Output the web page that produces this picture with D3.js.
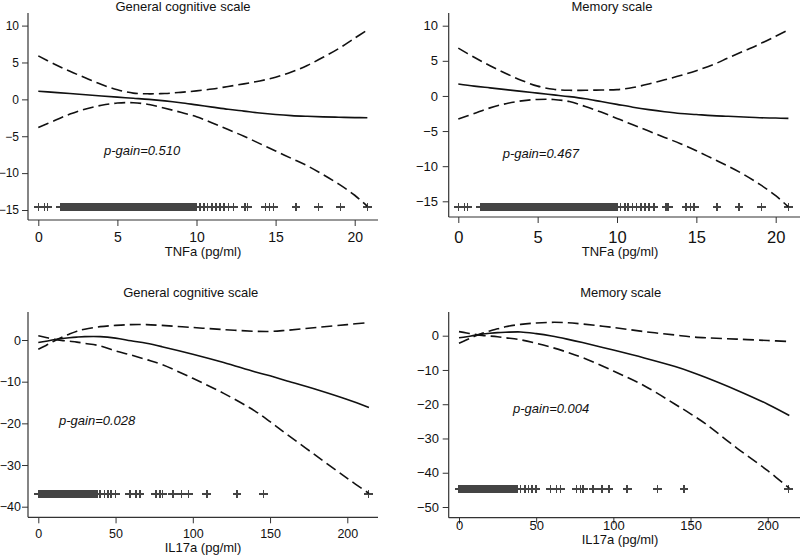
<!DOCTYPE html>
<html>
<head>
<meta charset="utf-8">
<script src="https://cdn.jsdelivr.net/npm/d3@7/dist/d3.min.js"></script>
<style>
  html, body { margin: 0; padding: 0; background: #fff; }
  svg { display: block; font-family: "Liberation Sans", Arial, sans-serif; }
</style>
</head>
<body>
<svg id="chart" width="800" height="555"></svg>
<script>
// ---------------- DATA ----------------
const panelTitles = ["General cognitive scale", "Memory scale", "General cognitive scale", "Memory scale"];
const xTitles = ["TNFa (pg/ml)", "TNFa (pg/ml)", "IL17a (pg/ml)", "IL17a (pg/ml)"];
const pGainLabels = ["p-gain=0.510", "p-gain=0.467", "p-gain=0.028", "p-gain=0.004"];

const tnfaTicksX = [0, 5, 10, 15, 20];
const tnfaTicksY = [-15, -10, -5, 0, 5, 10];
const il17TicksX = [0, 50, 100, 150, 200];
const il17GenTicksY = [-40, -30, -20, -10, 0];
const il17MemTicksY = [-50, -40, -30, -20, -10, 0];

// TNFa grid (pg/ml)
const tnfaGrid = [0, 1, 2, 3, 4, 5, 6, 7, 8, 9, 10, 11, 12, 13, 14, 15, 16, 17, 18, 19, 20, 20.8];
// General cognitive scale vs TNFa
const genTnfaFit   = [1.1, 0.95, 0.8, 0.62, 0.45, 0.3, 0.15, 0.0, -0.2, -0.45, -0.75, -1.05, -1.35, -1.6, -1.85, -2.05, -2.2, -2.3, -2.38, -2.42, -2.47, -2.5];
const genTnfaUpper = [5.9, 4.8, 3.8, 2.9, 2.0, 1.3, 0.85, 0.75, 0.8, 0.95, 1.15, 1.4, 1.75, 2.1, 2.5, 3.0, 3.7, 4.6, 5.7, 6.9, 8.3, 9.4];
const genTnfaLower = [-3.8, -2.9, -2.0, -1.3, -0.8, -0.5, -0.45, -0.7, -1.2, -1.75, -2.35, -3.2, -4.1, -5.0, -6.0, -7.0, -8.0, -9.0, -10.2, -11.5, -13.0, -14.5];
// Memory scale vs TNFa
const memTnfaFit   = [1.7, 1.4, 1.15, 0.9, 0.65, 0.4, 0.15, -0.1, -0.4, -0.8, -1.2, -1.6, -1.95, -2.25, -2.5, -2.65, -2.8, -2.9, -3.0, -3.1, -3.15, -3.2];
const memTnfaUpper = [6.8, 5.5, 4.3, 3.2, 2.2, 1.4, 0.95, 0.8, 0.8, 0.85, 0.9, 1.2, 1.7, 2.3, 2.9, 3.6, 4.4, 5.4, 6.4, 7.4, 8.5, 9.4];
const memTnfaLower = [-3.3, -2.5, -1.7, -1.1, -0.7, -0.5, -0.5, -0.8, -1.5, -2.3, -3.2, -4.1, -5.0, -5.9, -6.8, -7.8, -8.9, -10.0, -11.2, -12.6, -14.2, -15.8];

// IL17a grid (pg/ml)
const il17Grid = [0, 5, 10, 15, 20, 25, 30, 40, 50, 60, 70, 80, 100, 120, 140, 150, 160, 180, 200, 214];
// General cognitive scale vs IL17a
const genIl17Fit   = [-0.6, -0.3, 0.05, 0.35, 0.55, 0.7, 0.8, 0.8, 0.45, -0.2, -0.8, -1.6, -3.4, -5.4, -7.6, -8.6, -9.7, -11.9, -14.3, -16.2];
const genIl17Upper = [-2.2, -1.3, -0.3, 0.6, 1.4, 2.1, 2.6, 3.2, 3.5, 3.7, 3.7, 3.5, 3.0, 2.5, 2.1, 2.05, 2.3, 3.0, 3.7, 4.2];
const genIl17Lower = [1.0, 0.6, 0.2, -0.1, -0.3, -0.5, -0.8, -1.4, -2.6, -3.6, -4.7, -5.9, -9.2, -12.8, -17.0, -19.6, -22.4, -27.8, -33.2, -36.8];
// Memory scale vs IL17a
const memIl17Fit   = [-0.6, -0.3, 0.1, 0.45, 0.7, 0.9, 1.0, 1.1, 0.6, -0.1, -1.0, -2.0, -4.2, -6.5, -9.0, -10.5, -12.2, -15.9, -20.0, -23.3];
const memIl17Upper = [-2.2, -1.2, -0.2, 0.7, 1.4, 2.0, 2.6, 3.3, 3.7, 3.9, 3.8, 3.4, 2.4, 1.2, 0.2, -0.3, -0.6, -1.0, -1.4, -1.7];
const memIl17Lower = [1.2, 0.8, 0.4, 0.05, -0.1, -0.3, -0.6, -1.2, -2.2, -3.4, -4.8, -6.4, -10.3, -14.6, -20.0, -22.8, -25.8, -32.8, -39.4, -44.5];

// Observed exposure values (rug of "+" markers)
const tnfaObs = [0, 0.38, 0.59,
  1.4, 1.5, 1.6, 1.7, 1.8, 1.9, 2.0, 2.1, 2.2, 2.3, 2.4, 2.5, 2.6, 2.7, 2.8, 2.9, 3.0, 3.1, 3.2, 3.3, 3.4, 3.5,
  3.6, 3.7, 3.8, 3.9, 4.0, 4.1, 4.2, 4.3, 4.4, 4.5, 4.6, 4.7, 4.8, 4.9, 5.0, 5.1, 5.2, 5.3, 5.4, 5.5,
  5.6, 5.7, 5.8, 5.9, 6.0, 6.1, 6.2, 6.3, 6.4, 6.5, 6.6, 6.7, 6.8, 6.9, 7.0, 7.1, 7.2, 7.3, 7.4, 7.5,
  7.6, 7.7, 7.8, 7.9, 8.0, 8.1, 8.2, 8.3, 8.4, 8.5, 8.6, 8.7, 8.8, 8.9, 9.0, 9.1, 9.2, 9.3, 9.4, 9.5,
  9.6, 9.7, 9.8, 9.9, 10.0,
  10.23, 10.49, 10.7, 10.97, 11.24, 11.5, 11.75, 12.03, 12.34, 13.08, 13.23, 14.35, 14.62, 14.87,
  16.3, 17.7, 19.1, 20.8];
const il17Obs = [0, 1, 2, 3, 4, 5, 6, 7, 8, 9, 10, 11, 12, 13, 14, 15, 16, 17, 18, 19, 20, 21, 22, 23,
  24, 25, 26, 27, 28, 29, 30, 31, 32, 33, 34, 35, 36, 37, 38,
  39.8, 42.8, 45.0, 47.2, 50.0, 59.2, 63.2, 65.8, 76.0, 78.6, 80.5, 87.0, 92.8, 97.2, 109.0, 128.6, 145.8, 213.6];

// -------------- LAYOUT --------------
const panels = [
  { grid: tnfaGrid, fit: genTnfaFit, up: genTnfaUpper, lo: genTnfaLower, obs: tnfaObs, rugY: -14.6,
    xDom: [0, 20], xRange: [38.3, 354.7], yDom: [-15, 10], yRange: [210, 25.6],
    xTicks: tnfaTicksX, yTicks: tnfaTicksY,
    axisLeft: 28, axisRight: 378, axisTop: 13, axisBottom: 220,
    yFont: 12, xFont: 14, xLabelY: 241.5, yLabelEnd: 19,
    titleX: 183, titleY: 10.5, xTitleX: 203, xTitleY: 255.5, pX: 104, pY: 155 },
  { grid: tnfaGrid, fit: memTnfaFit, up: memTnfaUpper, lo: memTnfaLower, obs: tnfaObs, rugY: -15.8,
    xDom: [0, 20], xRange: [458.3, 775.7], yDom: [-15, 10], yRange: [201.3, 25.7],
    xTicks: tnfaTicksX, yTicks: tnfaTicksY,
    axisLeft: 448.7, axisRight: 800, axisTop: 13, axisBottom: 217,
    yFont: 13, xFont: 16.5, xLabelY: 242.5, yLabelEnd: 438,
    titleX: 612, titleY: 10.5, xTitleX: 620, xTitleY: 256, pX: 502.7, pY: 157.5 },
  { grid: il17Grid, fit: genIl17Fit, up: genIl17Upper, lo: genIl17Lower, obs: il17Obs, rugY: -37,
    xDom: [0, 200], xRange: [38.3, 347.3], yDom: [-40, 0], yRange: [506.7, 340],
    xTicks: il17TicksX, yTicks: il17GenTicksY,
    axisLeft: 28, axisRight: 378, axisTop: 312, axisBottom: 517.3,
    yFont: 12.5, xFont: 12.5, xLabelY: 538.5, yLabelEnd: 21,
    titleX: 190.7, titleY: 297, xTitleX: 203, xTitleY: 552, pX: 59, pY: 424.5 },
  { grid: il17Grid, fit: memIl17Fit, up: memIl17Upper, lo: memIl17Lower, obs: il17Obs, rugY: -44.8,
    xDom: [0, 200], xRange: [459, 767.7], yDom: [-50, 0], yRange: [507, 335.7],
    xTicks: il17TicksX, yTicks: il17MemTicksY,
    axisLeft: 448.7, axisRight: 800, axisTop: 312, axisBottom: 517.7,
    yFont: 13, xFont: 13, xLabelY: 529.5, yLabelEnd: 439,
    titleX: 620.7, titleY: 297, xTitleX: 620, xTitleY: 544, pX: 513, pY: 412.5 }
];

const svg = d3.select("#chart");
const axisColor = "#333";

panels.forEach((p, i) => {
  const g = svg.append("g");
  const x = d3.scaleLinear().domain(p.xDom).range(p.xRange);
  const y = d3.scaleLinear().domain(p.yDom).range(p.yRange);

  // Title
  g.append("text").attr("x", p.titleX).attr("y", p.titleY)
    .attr("text-anchor", "middle").attr("font-size", 13).attr("fill", "#111")
    .text(panelTitles[i]);

  // Y axis
  const yAxis = d3.axisLeft(y).tickValues(p.yTicks).tickSize(6).tickPadding(4).tickFormat(d3.format("d"));
  const gy = g.append("g").attr("transform", `translate(${p.axisLeft},0)`).call(yAxis);
  gy.select(".domain").remove();
  gy.selectAll(".tick line").attr("stroke", axisColor).attr("stroke-width", 1);
  gy.selectAll(".tick text").attr("x", p.yLabelEnd - p.axisLeft).attr("font-size", p.yFont)
    .attr("fill", "#111").attr("font-family", '"Liberation Sans", Arial, sans-serif');
  g.append("line").attr("x1", p.axisLeft).attr("x2", p.axisLeft)
    .attr("y1", p.axisTop).attr("y2", p.axisBottom).attr("stroke", axisColor).attr("stroke-width", 1.2);

  // X axis
  const xAxis = d3.axisBottom(x).tickValues(p.xTicks).tickSize(6).tickFormat(d3.format("d"));
  const gx = g.append("g").attr("transform", `translate(0,${p.axisBottom})`).call(xAxis);
  gx.select(".domain").remove();
  gx.selectAll(".tick line").attr("stroke", axisColor).attr("stroke-width", 1);
  gx.selectAll(".tick text").attr("y", p.xLabelY - p.axisBottom).attr("dy", null)
    .attr("font-size", p.xFont).attr("fill", "#111")
    .attr("font-family", '"Liberation Sans", Arial, sans-serif');
  g.append("line").attr("x1", p.axisLeft).attr("x2", p.axisRight)
    .attr("y1", p.axisBottom).attr("y2", p.axisBottom).attr("stroke", axisColor).attr("stroke-width", 1.2);

  // X title
  g.append("text").attr("x", p.xTitleX).attr("y", p.xTitleY)
    .attr("text-anchor", "middle").attr("font-size", 13).attr("fill", "#111")
    .text(xTitles[i]);

  // Rug of observations
  const rugCy = y(p.rugY);
  const half = 4.3;
  const rug = g.append("g").attr("stroke", "#444").attr("stroke-width", 1.6)
    .attr("shape-rendering", "crispEdges");
  rug.selectAll("path").data(p.obs).join("path")
    .attr("d", d => {
      const cx = x(d);
      return `M${cx - half},${rugCy}H${cx + half}M${cx},${rugCy - half}V${rugCy + half}`;
    });

  // Curves
  const line = (vals) => d3.line()
    .x((d, j) => x(p.grid[j]))
    .y(d => y(d))
    .curve(d3.curveCatmullRom.alpha(0.5))(vals);

  g.append("path").attr("d", line(p.up)).attr("fill", "none")
    .attr("stroke", "#111").attr("stroke-width", 1.6).attr("stroke-dasharray", "11,5");
  g.append("path").attr("d", line(p.lo)).attr("fill", "none")
    .attr("stroke", "#111").attr("stroke-width", 1.6).attr("stroke-dasharray", "11,5");
  g.append("path").attr("d", line(p.fit)).attr("fill", "none")
    .attr("stroke", "#111").attr("stroke-width", 1.6);

  // p-gain label
  g.append("text").attr("x", p.pX).attr("y", p.pY)
    .attr("font-size", 13).attr("font-style", "italic").attr("fill", "#111")
    .text(pGainLabels[i]);
});
</script>
</body>
</html>
